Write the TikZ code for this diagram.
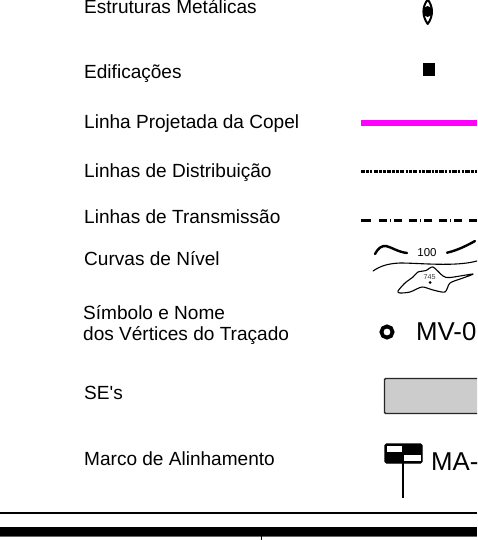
\documentclass[tikz,border=0pt]{standalone}
\usepackage{fontspec}
\setmainfont{Liberation Sans}
\newfontfamily\plainf{Liberation Sans}
\definecolor{mg}{RGB}{255,0,255}
\begin{document}
\begin{tikzpicture}[x=1pt,y=-1pt,
  lbl/.style={anchor=base west,inner sep=0pt,font=\fontsize{19.05}{22}\selectfont},
  big/.style={anchor=base west,inner sep=0pt,font=\fontsize{25.8}{30}\selectfont},
  contour/.style={line width=1.1pt,black,line cap=round,line join=round},
  thick contour/.style={line width=2.4pt,black,line cap=round},
  tline/.style={line width=3pt}]
\useasboundingbox (0,0) rectangle (477,540);
\clip (0,0) rectangle (477,540);
\fill[white] (0,0) rectangle (477,540);
% labels
\node[lbl] (t1) at (84,14) {Estruturas Metálicas};
\node[lbl] (t2) at (84,79) {Edificações};
\node[lbl] (t3) at (84,129) {Linha Projetada da Copel};
\node[lbl] (t4) at (84,178) {Linhas de Distribuição};
\node[lbl] (t5) at (84,223) {Linhas de Transmissão};
\node[lbl] (t6) at (84,265) {Curvas de Nível};
\node[lbl] (t7) at (83,319) {Símbolo e Nome};
\node[lbl] (t8) at (83,340) {dos Vértices do Traçado};
\node[lbl] (t9) at (84,399) {\plainf SE's};
\node[lbl] (t10) at (84,465) {Marco de Alinhamento};
% structure symbol
\draw[line width=2pt,line join=round,fill=white] (427.7,-0.5) .. controls (422,7) and (422,16) .. (427.7,24) .. controls (433.4,16) and (433.4,7) .. (427.7,-0.5) -- cycle;
\fill (427.7,11.5) ellipse (4.6 and 5.5);
% building
\fill (423,63.5) rectangle (435,76);
% lines
\draw[mg,line width=6.4pt] (360.5,123.3) -- (477,123.3);
\draw[tline,dash pattern=on 4.5pt off 1.2pt on 2.5pt off 1.2pt on 2.5pt off 1.2pt] (360.5,171.7) -- (477,171.7);
\draw[tline] (360.7,220) -- (371,220);
\draw[tline,dash pattern=on 7.5pt off 3.5pt on 1pt off 3pt on 7.5pt off 7.5pt] (379,220) -- (477,220);
% contours
\draw[thick contour] (375,254) .. controls (378,248) and (382,245.5) .. (386,246) .. controls (391,247) and (398,252) .. (407,253);
\draw[thick contour] (447,252.7) .. controls (457,250.5) and (467,245.5) .. (475,241);
\node[inner sep=0pt,font=\fontsize{11.5}{14}\selectfont] (c100) at (427,252.5) {100};
\draw[contour] (373,271) .. controls (381,265.5) and (389,263.5) .. (400,263) .. controls (420,263) and (455,267) .. (477,261);
\draw[contour] plot[smooth cycle,tension=.45] coordinates {(398,291) (405,283) (413,277) (418,272) (426,270.5) (433,267) (443,276) (450,277.5) (473,274) (463,278) (450,283) (445,292) (433,290) (422,287) (410,292) (400,293)};
\node[inner sep=0pt,font=\fontsize{7.2}{8}\selectfont,text=black!75] (c745) at (429.5,277) {745};
\fill (430,282.5) circle (1.5);
% vertex
\draw[line width=3.8pt] (387,332) circle (5.6);
\node[big] (mv) at (416,340) {MV-0};
% SE
\draw[line width=1.4pt,fill=black!20,draw=black!85,rounded corners=1.2pt] (384.5,378.5) rectangle (480,413.5);
% alignment mark
\draw[line width=1.2pt,fill=black,rounded corners=1.5pt] (385,444) rectangle (422,463);
\fill[white] (386.5,446) rectangle (402,452);
\fill[white] (404,455) rectangle (421,461);
\draw[line width=1.5pt] (403,463) -- (403,498);
\node[big] (ma) at (431,470) {MA-};
% bottom rules
\draw[line width=1.6pt] (0,513) -- (477,513);
\fill (0,526.7) rectangle (477,535.7);
\draw[line width=1.4pt,black!60] (0,536.4) -- (477,536.4);
\draw[line width=1.4pt] (261.5,536) -- (261.5,540);
\end{tikzpicture}
\end{document}
